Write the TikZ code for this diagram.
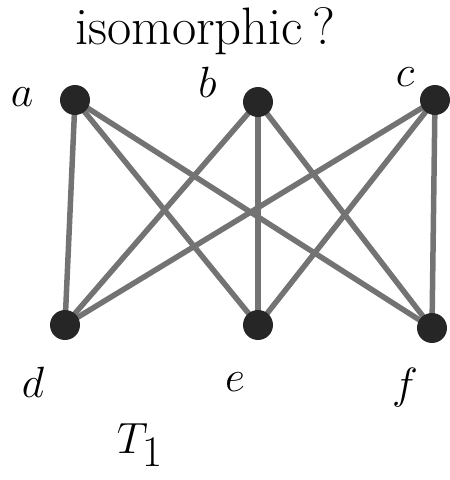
\documentclass[tikz,border=0pt]{standalone}
\usepackage{tikz}

\begin{document}
\begin{tikzpicture}[line cap=round,
  vert/.style={circle,fill=black!85,inner sep=0pt,minimum size=6mm},
  lbl/.style={font=\fontsize{28}{32}\selectfont},
  edge/.style={black!55,line width=1.1mm}]
\useasboundingbox (0,0) rectangle (9,9.6);
\node[font=\fontsize{30}{34}\selectfont,anchor=base,inner sep=0pt] (title) at (4.1,8.72) {isomorphic\,?};
\coordinate (a) at (1.5,7.6);
\coordinate (b) at (5.16,7.56);
\coordinate (c) at (8.7,7.6);
\coordinate (d) at (1.3,3.1);
\coordinate (e) at (5.16,3.1);
\coordinate (f) at (8.64,3.04);
\foreach \u in {a,b,c}
  \foreach \v in {d,e,f}
    \draw[edge] (\u) -- (\v);
\foreach \n in {a,b,c,d,e,f}
  \node[vert] (v\n) at (\n) {};
\node[lbl] (la) at (0.44,7.65) {$a$};
\node[lbl] (lb) at (4.15,7.95) {$b$};
\node[lbl] (lc) at (8.1,8.05) {$c$};
\node[lbl] (ld) at (0.66,1.95) {$d$};
\node[lbl] (le) at (4.7,1.95) {$e$};
\node[lbl] (lf) at (8.1,1.85) {$f$};
\node[font=\fontsize{50}{54}\selectfont] (T) at (2.8,0.7) {$T_1$};
\end{tikzpicture}
\end{document}
